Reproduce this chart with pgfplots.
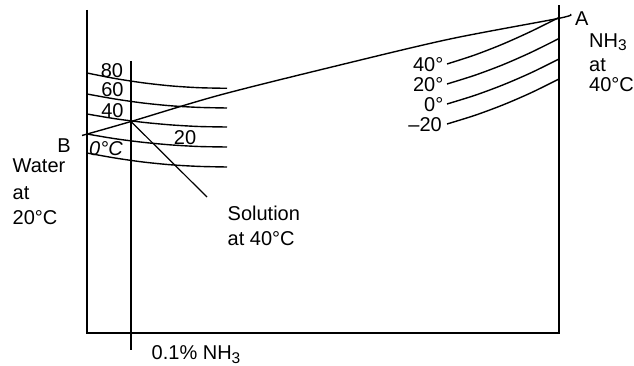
\documentclass[border=0pt]{standalone}
\usepackage{fontspec}
\setmainfont{Liberation Sans}
\usepackage{pgfplots}
\pgfplotsset{compat=1.18}
\tikzset{lab/.style={inner sep=0pt, font=\fontsize{20bp}{24bp}\selectfont}}
\newcommand{\sub}[1]{\raisebox{-3.5bp}{\fontsize{15.5bp}{16bp}\selectfont #1}}
\begin{document}
\begin{tikzpicture}
\path[use as bounding box] (0,0) rectangle (634bp,366bp);
\begin{axis}[at={(0,0)}, anchor=south west, scale only axis,
  width=634bp, height=366bp, xmin=0, xmax=634, ymin=0, ymax=366,
  y dir=reverse, hide axis, clip=false]
% frame
\addplot[black, line width=1.9pt] coordinates {(87,10) (87,333) (559,333) (559,5)};
% 0.1% NH3 line
\addplot[black, line width=1.3pt] coordinates {(131,61) (131,350)};
% left isotherms
\addplot[black, line width=1.4pt, smooth] coordinates {(87,73) (115,78.5) (143,82.8) (171,85.9) (199,87.7) (227,88.3)};
\addplot[black, line width=1.4pt, smooth] coordinates {(87,94) (115,99.0) (143,103.0) (171,105.8) (199,107.4) (227,108)};
\addplot[black, line width=1.4pt, smooth] coordinates {(87,114) (115,118.7) (143,122.3) (171,124.9) (199,126.5) (227,127)};
\addplot[black, line width=1.4pt, smooth] coordinates {(87,134) (115,138.7) (143,142.3) (171,144.9) (199,146.5) (227,147)};
\addplot[black, line width=1.4pt, smooth] coordinates {(87,153) (115,158.0) (143,162.0) (171,164.8) (199,166.4) (227,167)};
% right isotherms
\addplot[black, line width=1.4pt, smooth] coordinates {(447,64) (475,54.9) (503,44.0) (531,31.4) (559,17.5)};
\addplot[black, line width=1.4pt, smooth] coordinates {(447,84) (475,75.2) (503,64.7) (531,52.4) (559,38.5)};
\addplot[black, line width=1.4pt, smooth] coordinates {(447,104) (475,95.3) (503,84.9) (531,72.8) (559,59)};
\addplot[black, line width=1.4pt, smooth] coordinates {(447,124) (475,115.3) (503,104.9) (531,92.8) (559,79)};
% A-B line
\addplot[black, line width=1.4pt, smooth] coordinates {(82,135.5) (131,121.5) (220,95) (340,65) (450,39) (559,18.3) (570,14.5)};
% solution line
\addplot[black, line width=1.2pt] coordinates {(131,121.5) (207,197)};
% labels
\node[lab] at (axis cs:112,70.5) {80};
\node[lab] at (axis cs:112.5,89.5) {60};
\node[lab] at (axis cs:112.5,110.5) {40};
\node[lab] at (axis cs:185,137.7) {20};
\node[lab] at (axis cs:106,148.5) {\itshape 0°C};
\node[lab] at (axis cs:64,146) {B};
\node[lab, anchor=base west] at (axis cs:12.5,172.7) {Water};
\node[lab, anchor=base west] at (axis cs:12.5,199) {at};
\node[lab, anchor=base west] at (axis cs:12.5,224) {20°C};
\node[lab, anchor=base west] at (axis cs:227.5,220.7) {Solution};
\node[lab, anchor=base west] at (axis cs:227.5,245) {at 40°C};
\node[lab, anchor=base west] at (axis cs:151.5,359.5) {0.1\% NH\sub{3}};
\node[lab] at (axis cs:581.7,18.7) {A};
\node[lab, anchor=base west] at (axis cs:589,47.5) {NH\sub{3}};
\node[lab, anchor=base west] at (axis cs:589,71.7) {at};
\node[lab, anchor=base west] at (axis cs:589,91.7) {40°C};
\node[lab, anchor=east] at (axis cs:443.5,65) {40°};
\node[lab, anchor=east] at (axis cs:443.5,85) {20°};
\node[lab, anchor=east] at (axis cs:443.5,105) {0°};
\node[lab, anchor=east] at (axis cs:442,125) {–20};
\end{axis}
\end{tikzpicture}
\end{document}
